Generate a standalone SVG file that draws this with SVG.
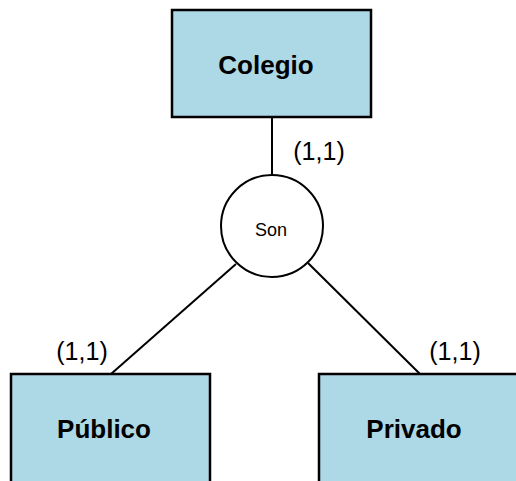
<svg xmlns="http://www.w3.org/2000/svg" width="516" height="481" viewBox="0 0 516 481">
  <style>
    .entity { fill: #ADD8E6; stroke: #000; stroke-width: 2.5; }
    .rel { fill: #fff; stroke: #000; stroke-width: 2; }
    .conn { stroke: #000; stroke-width: 2; fill: none; }
    .ename { font-family: "Liberation Sans", Arial, sans-serif; font-size: 26px; font-weight: bold; text-anchor: middle; fill: #000; }
    .card { font-family: "Liberation Sans", Arial, sans-serif; font-size: 25px; text-anchor: middle; fill: #000; }
    .rname { font-family: "Liberation Sans", Arial, sans-serif; font-size: 18px; text-anchor: middle; fill: #000; }
  </style>
  <rect width="516" height="481" fill="#fff"/>
  <g id="connectors">
    <line class="conn" x1="272" y1="118" x2="272" y2="176"/>
    <line class="conn" x1="236" y1="264" x2="111" y2="374"/>
    <line class="conn" x1="308" y1="263" x2="420" y2="374"/>
  </g>
  <g id="colegio">
    <rect class="entity" x="172" y="10" width="199" height="107"/>
    <text class="ename" x="266" y="74">Colegio</text>
  </g>
  <g id="son">
    <circle class="rel" cx="272" cy="226" r="51"/>
    <text class="rname" x="271" y="236">Son</text>
  </g>
  <g id="publico">
    <rect class="entity" x="11" y="374" width="199" height="120"/>
    <text class="ename" x="104" y="438">Público</text>
  </g>
  <g id="privado">
    <rect class="entity" x="319" y="374" width="210" height="120"/>
    <text class="ename" x="414" y="438">Privado</text>
  </g>
  <g id="cardinalities">
    <text class="card" x="319" y="160">(1,1)</text>
    <text class="card" x="82" y="360">(1,1)</text>
    <text class="card" x="455" y="360">(1,1)</text>
  </g>
</svg>
